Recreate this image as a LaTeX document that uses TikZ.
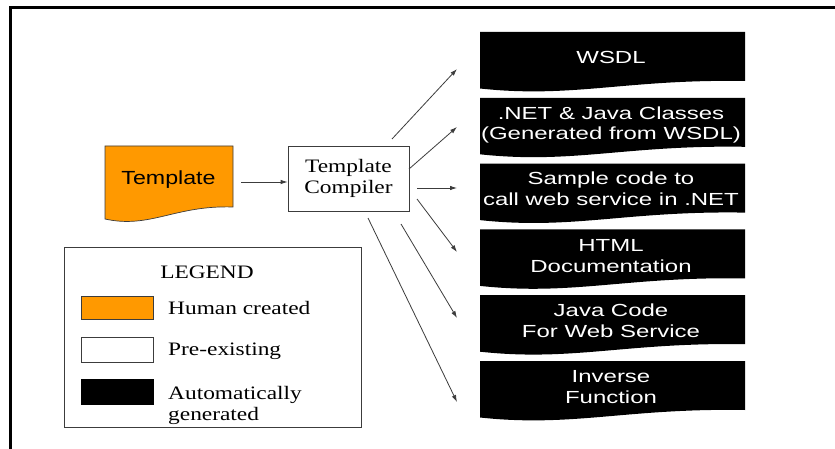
\documentclass[tikz,border=0pt]{standalone}
\usepackage{fontspec}
\setmainfont[FakeStretch=1.23]{Liberation Serif}
\newfontfamily\boxsans[FakeStretch=1.37]{Liberation Sans}
\newfontfamily\tplsans[FakeStretch=1.22]{Liberation Sans}
\usetikzlibrary{arrows.meta}
\definecolor{humanorange}{RGB}{255,153,0}
\definecolor{linegray}{RGB}{60,60,60}
\newcommand\genbox[1]{%
  \fill[black] (480,#1) -- (745,#1) -- (745,#1+49)
    .. controls (626,#1+47) and (573,#1+66.5) .. (480,#1+56.5) -- cycle;}
\tikzset{
  outtext/.style={text=white, font=\boxsans\fontsize{17.5}{20.7}\selectfont,
    align=center, anchor=base, inner sep=0pt},
  sertext/.style={font=\fontsize{19}{21}\selectfont, inner sep=0pt},
  conn/.style={draw=linegray, line width=0.8pt, -{Latex[length=7pt,width=4.5pt]}},
  compbox/.style={draw=linegray, line width=0.8pt, fill=white, minimum width=121pt,
    minimum height=65pt, inner sep=0pt, align=center, font=\fontsize{19}{21}\selectfont},
  swatch/.style={line width=0.8pt},
}
\begin{document}
\begin{tikzpicture}[x=1pt,y=-1pt]
\useasboundingbox (0,0) rectangle (835,449);
\fill[white] (0,0) rectangle (835,449);
% frame
\draw[line width=2.7pt] (10.3,449) -- (10.3,7.5) -- (835,7.5);

% template document shape
\draw[fill=humanorange, draw=linegray, line width=0.7pt]
  (105,146) -- (233,146) -- (233,207)
  .. controls (175,205) and (150,229) .. (105,219) -- cycle;
\node[font=\tplsans\fontsize{19}{21}\selectfont, anchor=base, inner sep=0pt] (tpl) at (168.5,184.3) {Template};

% compiler
\node[compbox] (comp) at (348.5,178.5) {Template\\Compiler};

\coordinate (tplout) at (241,182);
\draw[conn] (tplout) -- (comp.west |- tplout);

% generated boxes
\genbox{32}
\genbox{97.8}
\genbox{163.6}
\genbox{229.4}
\genbox{295.2}
\genbox{361}

% (anchor=base of a multi-line node is the baseline of its last line)
\node[outtext] (wsdl) at (611,64) {WSDL};
\node[outtext] (net) at (611,140) {.NET \& Java Classes\\(Generated from WSDL)};
\node[outtext] (sample) at (611,205.5) {Sample code to\\call web service in .NET};
\node[outtext] (html) at (611,272) {HTML\\Documentation};
\node[outtext] (java) at (611,337.5) {Java Code\\For Web Service};
\node[outtext] (inv) at (611,403.5) {Inverse\\Function};

% connectors
\coordinate (s1) at (392,139);  \coordinate (e1) at (457,69);
\coordinate (s2) at (409,169);  \coordinate (e2) at (457,127);
\coordinate (s3) at (417,188);  \coordinate (e3) at (457,188);
\coordinate (s4) at (417,199);  \coordinate (e4) at (457,252);
\coordinate (s5) at (401,224);  \coordinate (e5) at (457,318);
\coordinate (s6) at (368,218);  \coordinate (e6) at (457,402);
\draw[conn] (s1) -- (e1);
\draw[conn] (s2) -- (e2);
\draw[conn] (s3) -- (e3);
\draw[conn] (s4) -- (e4);
\draw[conn] (s5) -- (e5);
\draw[conn] (s6) -- (e6);

% legend
\draw[draw=linegray, line width=0.8pt] (64,247) rectangle (361,427);
\node[sertext, anchor=base] (legend) at (207,278.3) {LEGEND};
\draw[swatch, fill=humanorange, draw=linegray] (81,296) rectangle (153,319);
\draw[swatch, fill=white, draw=linegray] (81,337) rectangle (153,362);
\draw[swatch, fill=black, draw=black] (81,379) rectangle (153,404);
\node[sertext, anchor=base west] (lh) at (168,314) {Human created};
\node[sertext, anchor=base west] (lp) at (168,355.7) {Pre-existing};
\node[sertext, anchor=base west, align=left] (la) at (168,420) {Automatically\\generated};
\end{tikzpicture}
\end{document}
